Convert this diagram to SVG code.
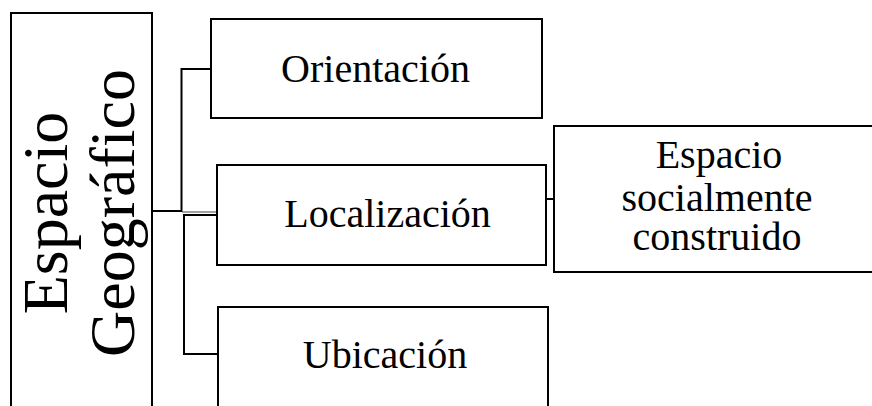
<svg xmlns="http://www.w3.org/2000/svg" width="872" height="406" viewBox="0 0 872 406">
<style>
.box{fill:#fff;stroke:#000;stroke-width:2}
text{font-family:'Liberation Serif','Times New Roman',Times,'DejaVu Serif',serif;font-size:40px;fill:#000;text-anchor:middle}
.big{font-size:64px}
.c{fill:none;stroke:#000;stroke-width:2}
</style>
<rect width="872" height="406" fill="#fff"/>
<g id="connectors">
<path class="c" d="M152,211 H181.5 V69 H211" stroke-width="2.5"/>
<line x1="182" y1="212" x2="217" y2="212" stroke="#444" stroke-width="1.2"/>
<path class="c" d="M183,215 H217"/>
<path class="c" d="M184,214 V354 H218"/>
<path class="c" d="M546,199 H554"/>
</g>
<g id="espacio-geografico">
<rect class="box" x="11" y="13" width="141" height="410"/>
<text class="big" font-family="Liberation Serif, serif" transform="translate(67,213) rotate(-90)">Espacio</text>
<text class="big" font-family="Liberation Serif, serif" transform="translate(134,213) rotate(-90)">Geográfico</text>
</g>
<g id="orientacion">
<rect class="box" x="211" y="19" width="331" height="99"/>
<text font-family="Liberation Serif, serif" x="375.5" y="82">Orientación</text>
</g>
<g id="localizacion">
<rect class="box" x="217" y="165" width="329" height="100"/>
<text font-family="Liberation Serif, serif" x="387.5" y="227">Localización</text>
</g>
<g id="ubicacion">
<rect class="box" x="218" y="307" width="330" height="120"/>
<text font-family="Liberation Serif, serif" x="385" y="368">Ubicación</text>
</g>
<g id="espacio-socialmente-construido">
<rect class="box" x="554" y="126" width="330" height="146"/>
<text font-family="Liberation Serif, serif" x="719" y="168">Espacio</text>
<text font-family="Liberation Serif, serif" x="717" y="211">socialmente</text>
<text font-family="Liberation Serif, serif" x="717" y="250">construido</text>
</g>
</svg>
